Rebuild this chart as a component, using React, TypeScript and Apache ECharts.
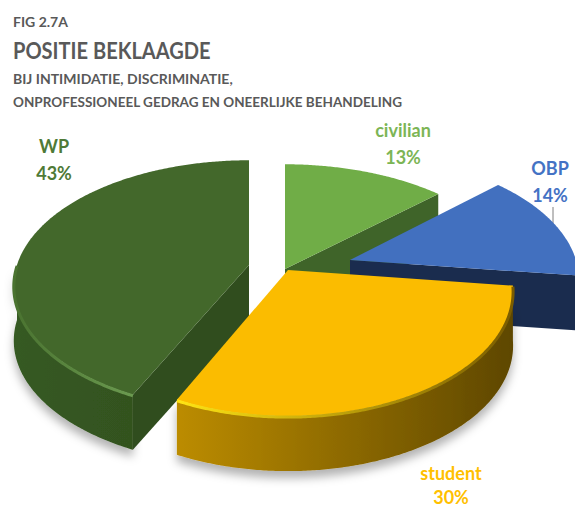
import React, { useEffect, useRef } from "react";
import * as echarts from "echarts";

// Data (draw order: back-left slice first; clockwise from the 205° start)
const categories = ["WP", "civilian", "OBP", "student"];
const percentages = [43, 13, 14, 30];
const headingLines = [
  "FIG 2.7A",
  "POSITIE BEKLAAGDE",
  "BIJ INTIMIDATIE, DISCRIMINATIE,",
  "ONPROFESSIONEEL GEDRAG EN ONEERLIJKE BEHANDELING",
];

// Layout and styling
const FONT = "Lato, 'Open Sans', sans-serif";
const START_ANGLE = 360 * (1 - 43 / 100);
const PERSPECTIVE = 0.165;
const RADIUS_Y = 122;
const DEPTH = 55;

const sliceLayout: Record<string, any> = {
  WP: { x: 249, y: 265, rx: 232, top: "#43682B", wall: "#304D1E", arc: ["#365A22", "#33521F"], rim: ["#4a7330", "#6b9a50"], label: "#4F7A37", lx: 54, ly: 146, gap: 27 },
  civilian: { x: 285, y: 269, rx: 234, top: "#70AD47", wall: "#3F6429", arc: ["#3F6429", "#3F6429"], lx: 403, ly: 130, gap: 27, label: "#7CB555" },
  OBP: { x: 350, y: 260, rx: 226, top: "#4270BF", wall: "#1A2C4E", arc: ["#1A2C4E", "#1A2C4E"], lx: 550, ly: 168, gap: 27, label: "#4472C4" },
  student: { x: 288, y: 270, rx: 222, top: "#FBBC00", wall: "#6B5000", arc: ["#BC8C00", "#5E4700"], rim: ["#FFE414", "#7a5c00"], lx: 451, ly: 473, gap: 24, label: "#FFC000" },
};

const rad = (d: number) => (d * Math.PI) / 180;

function project(l: any, theta: number, r = 1) {
  const X = Math.sin(rad(theta)) * r;
  const Yf = -Math.cos(rad(theta)) * r;
  const s = 1 / (1 - PERSPECTIVE * Yf);
  return [l.x + l.rx * X * s, l.y + RADIUS_Y * Yf * s];
}

function arcPoints(l: any, a: number, b: number) {
  const pts: number[][] = [];
  const n = Math.max(2, Math.ceil((b - a) * 2));
  for (let i = 0; i <= n; i++) pts.push(project(l, a + ((b - a) * i) / n));
  return pts;
}

const down = (pts: number[][]) => pts.map((p) => [p[0], p[1] + DEPTH]);

function renderSlice(params: any, api: any) {
  const idx = params.dataIndex;
  const name = categories[idx];
  const l = sliceLayout[name];
  const total = percentages.reduce((s, v) => s + v, 0);
  let start = START_ANGLE;
  for (let i = 0; i < idx; i++) start += (percentages[i] / total) * 360;
  start = start % 360;
  const end = start + (api.value(1) / total) * 360;
  const apex = project(l, 0, 0);
  const children: any[] = [];
  const grad = (c: string[]) =>
    new echarts.graphic.LinearGradient(0, 0, 1, 0, [
      { offset: 0, color: c[0] },
      { offset: 1, color: c[1] },
    ]);

  // outer wall: only the part facing the viewer
  const a0 = Math.max(start, 90);
  const b0 = Math.min(end, 270);
  const hasArc = b0 > a0;
  if (hasArc) {
    const arc = arcPoints(l, a0, b0);
    children.push({
      type: "polygon",
      shape: { points: arc.concat(down(arc).reverse()) },
      style: {
        fill: grad(l.arc),
        shadowBlur: name === "OBP" ? 0 : 10,
        shadowOffsetY: 7,
        shadowColor: "rgba(0,0,0,0.3)",
      },
    });
  }
  // radial walls facing the viewer
  const wall = (theta: number) => {
    const e = project(l, theta);
    children.push({
      type: "polygon",
      shape: { points: [apex, e, [e[0], e[1] + DEPTH], [apex[0], apex[1] + DEPTH]] },
      style: { fill: l.wall },
    });
  };
  if (Math.sin(rad(end)) > 0.01) wall(end);
  if (Math.sin(rad(start)) < -0.01) wall(start);

  // top face
  children.push({
    type: "polygon",
    shape: { points: [apex].concat(arcPoints(l, start, end)) },
    style: { fill: l.top },
  });
  // bevel highlight along the front rim
  if (hasArc && l.rim) {
    const rimAt = arcPoints(l, a0, b0).map((p) => [p[0], p[1] + 1]);
    children.push({
      type: "polyline",
      shape: { points: rimAt },
      style: { fill: "none", stroke: grad(l.rim), lineWidth: 3 },
    });
  }
  return { type: "group", children };
}

function sliceLabels() {
  const out: any[] = [];
  categories.forEach((name, i) => {
    const l = sliceLayout[name];
    const style = { fill: l.label, font: `700 18px ${FONT}`, align: "center", verticalAlign: "middle" };
    out.push({ type: "text", x: l.lx, y: l.ly, silent: true, style: { ...style, text: name } });
    out.push({ type: "text", x: l.lx, y: l.ly + l.gap, silent: true, style: { ...style, text: `${percentages[i]}%` } });
  });
  return out;
}

function headings() {
  const rows = [
    { y: 21, size: 14, sx: 1 },
    { y: 50, size: 22, sx: 0.912 },
    { y: 78, size: 14, sx: 1 },
    { y: 101, size: 14, sx: 0.965 },
  ];
  return headingLines.map((t, i) => ({
    type: "text",
    x: 13,
    y: rows[i].y,
    scaleX: rows[i].sx,
    silent: true,
    style: {
      text: t,
      fill: "#595959",
      font: `700 ${rows[i].size}px ${FONT}`,
      verticalAlign: "middle",
    },
  }));
}

export default function App() {
  const ref = useRef<HTMLDivElement>(null);
  useEffect(() => {
    document.body.style.margin = "0";
    const chart = echarts.init(ref.current!, null, { renderer: "svg" });
    chart.setOption({
      animation: false,
      backgroundColor: "#fff",
      series: [
        {
          type: "custom",
          coordinateSystem: "none",
          renderItem: renderSlice,
          silent: true,
          data: categories.map((c, i) => ({ name: c, value: [i, percentages[i]] })),
        },
      ],
      graphic: [
        ...headings(),
        ...sliceLabels(),
        {
          type: "line",
          silent: true,
          shape: { x1: 553, y1: 207, x2: 553, y2: 227 },
          style: { stroke: "#7f7f7f", lineWidth: 1 },
        },
      ],
    });
    return () => chart.dispose();
  }, []);
  return <div ref={ref} style={{ width: 575, height: 510 }} />;
}
